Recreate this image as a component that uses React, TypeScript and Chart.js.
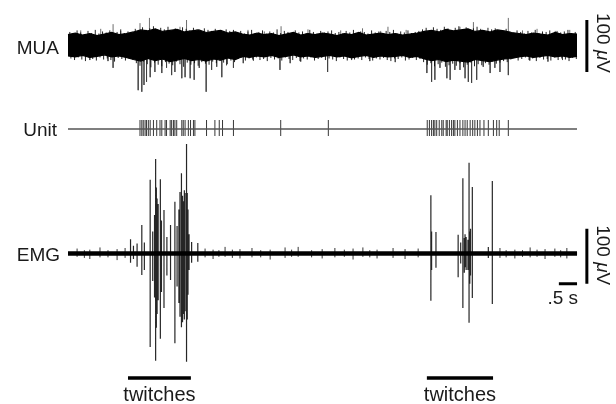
import { useEffect, useRef } from "react";
import { Chart, registerables } from "chart.js";

Chart.register(...registerables);

// ---- recording window (seconds) ----
const T_START = 0;
const T_END = 14;
const ENV_STEP = 0.2; // spacing of the MUA envelope samples
const FRINGE_STEP = 0.1; // spacing of the MUA edge excursions

// ---- MUA: envelope of the dense multi-unit band (µV, one value per ENV_STEP) ----
const MUA_UPPER = [
  22, 25, 21, 24, 20, 23, 26, 22, 24,
  27, 31, 29, 33, 28, 30, 32, 27, 29, 31, 26, 28, 30, 25, 27,
  23, 21, 25, 22, 24, 20, 23, 26, 21, 24, 22, 25, 23, 20, 24, 22, 26, 21, 23, 25, 22, 24, 21, 23, 25,
  28, 30, 27, 32, 29, 31, 33, 28, 30, 27, 31, 29, 26,
  24, 22, 25, 23, 21, 26, 22, 24, 23,
];
const MUA_LOWER = [
  -19, -21, -18, -22, -20, -17, -21, -19, -22,
  -26, -29, -24, -28, -25, -30, -27, -24, -28, -26, -29, -25, -27, -23, -26,
  -20, -22, -19, -21, -18, -22, -20, -17, -21, -19, -22, -20, -18, -21, -19, -23, -20, -18, -22, -19, -21, -20, -18, -22, -20,
  -25, -28, -26, -30, -27, -29, -31, -26, -28, -30, -27, -25, -24,
  -21, -19, -22, -20, -18, -21, -19, -22, -20,
];

// ---- MUA: small excursions along the band edges (µV, one value per FRINGE_STEP) ----
const MUA_FRINGE_UP = [
  27, 24, 30, 26, 23, 29, 25, 31, 24, 28, 26, 30, 23, 27, 32, 25, 28, 26,
  33, 29, 36, 31, 34, 38, 30, 35, 32, 37, 29, 34, 31, 36, 33, 30, 35, 32, 28, 34, 31, 29, 33, 30, 27, 32, 29, 31,
  26, 29, 24, 28, 31, 25, 27, 30, 24, 28, 26, 32, 25, 29, 27, 24, 30, 26, 28, 25, 31, 27, 24, 29, 26, 28, 30, 25, 27, 24,
  29, 26, 31, 25, 28, 27, 24, 30, 26, 28, 25, 29, 27, 31, 24, 28, 26, 30, 25, 27, 29,
  32, 35, 30, 36, 33, 31, 37, 34, 30, 35, 38, 32, 36, 31, 34, 37, 33, 30, 35, 32, 34, 31, 29, 33,
  28, 25, 30, 27, 24, 29, 26, 31, 25, 28, 27, 30, 24, 29, 26, 28, 31, 25, 27,
];
const MUA_FRINGE_DOWN = [
  -24, -27, -22, -26, -29, -23, -25, -28, -22, -26, -24, -27, -30, -23, -25, -28, -24, -26,
  -33, -38, -30, -35, -41, -32, -36, -39, -31, -34, -37, -30, -35, -40, -32, -36, -33, -38, -31, -34, -36, -30, -33, -29, -32, -35, -28, -31,
  -25, -23, -28, -24, -26, -22, -27, -25, -29, -23, -26, -24, -28, -22, -25, -27, -23, -29, -24, -26, -22, -28, -25, -23, -27, -24,
  -26, -29, -22, -25, -28, -23, -26, -24, -27, -22, -25, -28, -24, -26, -23, -27, -29, -24, -25, -22, -28, -26, -23, -27, -25,
  -31, -36, -33, -39, -35, -32, -40, -37, -34, -38, -33, -41, -36, -32, -39, -35, -37, -33, -36, -30, -34, -32, -29, -31,
  -26, -23, -28, -25, -22, -27, -24, -29, -23, -26, -25, -28, -22, -27, -24, -26, -29, -23, -25,
];

// MUA spikes poking out of the band: [time s, peak µV]
const MUA_SPIKES: [number, number][] = [
  [0.35, 30], [0.6, -27], [0.9, 33], [1.1, -29], [1.24, 42], [1.24, -42], [1.45, 29],
  [1.93, -85], [1.98, 44], [2.03, -88], [2.09, -75], [2.16, -69], [2.24, 54], [2.26, -60],
  [2.39, -50], [2.58, -52], [2.71, -42], [2.85, -56], [2.94, -50], [3.08, 37], [3.13, -62],
  [3.22, -60], [3.26, 50], [3.36, -62], [3.47, -65], [3.61, -42], [3.8, -88], [3.95, -46],
  [4.09, -40], [4.23, -60], [4.36, -37], [4.55, -42], [4.82, -33], [4.95, 31], [5.1, -28],
  [5.4, 28], [5.83, -46], [5.86, 38], [6.11, -33], [6.4, -30], [6.6, 32], [7.14, -50],
  [7.5, 30], [7.8, -27], [8.1, 34], [8.3, -29], [8.6, 29], [8.8, 37], [9.0, -31], [9.3, 31],
  [9.87, -52], [10.0, -69], [10.09, -65], [10.23, -42], [10.42, -62], [10.51, -65],
  [10.64, -46], [10.78, -46], [10.78, 37], [10.92, -62], [11.01, -69], [11.1, -71],
  [11.15, 46], [11.24, -65], [11.42, -40], [11.61, -52], [11.74, -42], [11.88, -50],
  [12.11, -56], [12.11, 54], [12.5, 30], [12.7, -28], [12.9, 33], [13.2, -30], [13.4, 29],
  [13.6, -27], [13.8, 31],
];

// ---- single-unit spike times (s) ----
const UNIT_SPIKES = [
  1.98, 2.03, 2.07, 2.12, 2.16, 2.21, 2.26, 2.35, 2.44, 2.53, 2.58, 2.67, 2.71, 2.81, 2.85,
  2.9, 2.94, 2.99, 3.13, 3.17, 3.22, 3.31, 3.37, 3.45, 3.49, 3.81, 4.04, 4.16, 4.25, 4.55,
  5.85, 7.16,
  9.88, 9.94, 10.0, 10.05, 10.09, 10.14, 10.21, 10.28, 10.32, 10.4, 10.43, 10.49, 10.55,
  10.6, 10.64, 10.71, 10.78, 10.86, 10.92, 10.98, 11.06, 11.13, 11.19, 11.26, 11.33, 11.44,
  11.56, 11.7, 11.79, 11.86, 12.11,
];

// ---- EMG deflections: [time s, up µV, down µV] ----
const EMG_NOISE: [number, number, number][] = [
  [0.25, 9, 6], [0.45, 6, 8], [0.6, 7, 10], [0.88, 11, 7], [1.1, 6, 7], [1.35, 8, 12], [1.57, 10, 8],
  [3.77, 9, 7], [3.99, 7, 10], [4.15, 6, 6], [4.32, 12, 6], [4.52, 7, 8], [4.73, 8, 9], [5.06, 10, 7],
  [5.3, 6, 7], [5.56, 7, 11], [5.97, 11, 8], [6.15, 7, 6], [6.33, 12, 6], [6.7, 6, 7], [6.99, 8, 9],
  [7.34, 10, 7], [7.6, 7, 6], [7.84, 9, 11], [8.11, 11, 6], [8.3, 6, 7], [8.5, 7, 9], [8.94, 10, 8],
  [9.27, 8, 10], [9.63, 9, 7], [11.88, 10, 8], [12.05, 6, 7], [12.29, 7, 9], [12.5, 6, 6],
  [12.71, 11, 7], [12.9, 7, 6], [13.12, 8, 10], [13.39, 9, 6], [13.55, 6, 7], [13.72, 10, 9],
];
const EMG_BURSTS: [number, number, number][] = [
  [1.72, 26, 17], [1.8, 14, 10], [1.9, 18, 24], [2.03, 52, 39], [2.1, 20, 30],
  [2.26, 134, 170], [2.33, 40, 50], [2.38, 70, 80], [2.41, 172, 195], [2.43, 120, 135],
  [2.45, 100, 110], [2.48, 90, 85], [2.54, 135, 155], [2.57, 60, 70], [2.64, 79, 99],
  [2.72, 30, 40], [2.82, 52, 48], [2.94, 94, 163], [3.0, 50, 60], [3.05, 80, 90],
  [3.08, 112, 115], [3.12, 146, 134], [3.15, 105, 125], [3.17, 95, 110], [3.2, 115, 120],
  [3.22, 110, 105], [3.26, 199, 197], [3.28, 110, 120], [3.3, 80, 75], [3.33, 35, 30],
  [3.4, 21, 17], [3.57, 19, 15],
  [9.98, 106, 86], [10.0, 40, 30], [10.12, 39, 26], [10.73, 34, 43], [10.8, 20, 18],
  [10.86, 137, 99], [10.9, 28, 35], [10.92, 35, 25], [10.95, 30, 30], [11.0, 25, 30],
  [11.03, 165, 126], [11.05, 40, 55], [11.07, 45, 40], [11.12, 121, 81], [11.56, 12, 8],
  [11.67, 132, 92],
];

// ---- twitch periods (s) ----
const TWITCHES: [number, number][] = [
  [1.65, 3.38],
  [9.87, 11.69],
];

// ---- calibration ----
const SCALE_UV = 100;
const SCALE_S = 0.5;

// ---- layout ----
const W = 616;
const H = 404;
const X0_PX = 68; // pixel of t = 0
const PX_PER_S = 36.36;
const MUA_BASE_PX = 46;
const MUA_PX_PER_UV = 0.52;
const UNIT_BASE_PX = 129;
const EMG_BASE_PX = 253.5;
const EMG_PX_PER_UV = 0.55;
const TWITCH_BAR_PX = 378;
const SCALE_BAR_T = 14.27;
const FONT = '"Liberation Sans", Arial, Helvetica, sans-serif';
const INK = "#1a1a1a";

const axisFor = (basePx: number, k: number) => ({
  type: "linear" as const,
  display: false,
  min: (basePx - H) / k,
  max: basePx / k,
});

type Pt = { x: number; y: number | null };
const segments = (rows: [number, number, number][]): Pt[] =>
  rows.flatMap(([t, lo, hi]) => [
    { x: t, y: lo },
    { x: t, y: hi },
    { x: t, y: null },
  ]);

const lineDs = (data: Pt[], yAxisID: string, color: string, width: number, extra: object = {}) => ({
  type: "line" as const,
  data,
  yAxisID,
  borderColor: color,
  borderWidth: width,
  pointRadius: 0,
  tension: 0,
  fill: false,
  spanGaps: false,
  ...extra,
});

const labelsPlugin = {
  id: "traceLabels",
  afterDraw(chart: any) {
    const { ctx } = chart;
    const x = chart.scales.x;
    const yM = chart.scales.yMua;
    const yU = chart.scales.yUnit;
    const yE = chart.scales.yEmg;
    ctx.save();
    ctx.fillStyle = INK;
    ctx.textBaseline = "alphabetic";
    ctx.font = `19px ${FONT}`;
    ctx.textAlign = "right";
    ctx.fillText("MUA", 59, yM.getPixelForValue(0) + 7.5);
    ctx.fillText("Unit", 57, yU.getPixelForValue(0) + 6.5);
    ctx.fillText("EMG", 60, yE.getPixelForValue(0) + 7);

    // twitch captions
    ctx.textAlign = "center";
    ctx.font = `20px ${FONT}`;
    TWITCHES.forEach(([a, b]) => {
      const cx = (x.getPixelForValue(a) + x.getPixelForValue(b)) / 2;
      ctx.fillText("twitches", cx, 401);
    });

    // time calibration caption
    ctx.textAlign = "right";
    ctx.font = `19px ${FONT}`;
    ctx.fillText(".5 s", x.getPixelForValue(T_END) + 1, yE.getPixelForValue(-55) + 20);

    // rotated voltage captions
    const drawUv = (cy: number) => {
      ctx.save();
      ctx.translate(602, cy);
      ctx.rotate(Math.PI / 2);
      ctx.textAlign = "left";
      ctx.textBaseline = "middle";
      const parts: [string, string][] = [
        ["100 ", `19px ${FONT}`],
        ["\u03bc", `italic 19px ${FONT}`],
        ["V", `19px ${FONT}`],
      ];
      let total = 0;
      parts.forEach(([s, f]) => {
        ctx.font = f;
        total += ctx.measureText(s).width;
      });
      let px = -total / 2;
      parts.forEach(([s, f]) => {
        ctx.font = f;
        ctx.fillText(s, px, 0);
        px += ctx.measureText(s).width;
      });
      ctx.restore();
    };
    drawUv((yM.getPixelForValue(50) + yM.getPixelForValue(-50)) / 2 - 3);
    drawUv((yE.getPixelForValue(45) + yE.getPixelForValue(-55)) / 2 - 1);
    ctx.restore();
  },
};

export default function App() {
  const ref = useRef<HTMLCanvasElement | null>(null);

  useEffect(() => {
    const canvas = ref.current;
    if (!canvas) return;

    const envTimes = MUA_UPPER.map((_, i) => T_START + i * ENV_STEP);
    const muaUpper = envTimes.map((t, i) => ({ x: t, y: MUA_UPPER[i] }));
    const muaLower = envTimes.map((t, i) => ({ x: t, y: MUA_LOWER[i] }));
    const fringe = segments([
      ...MUA_FRINGE_UP.map((v, i) => [T_START + 0.05 + i * FRINGE_STEP, 0, v] as [number, number, number]),
      ...MUA_FRINGE_DOWN.map((v, i) => [T_START + 0.08 + i * FRINGE_STEP, v, 0] as [number, number, number]),
    ]);
    const muaSpikes = segments(MUA_SPIKES.map(([t, v]) => [t, 0, v] as [number, number, number]));
    const unitBase = [
      { x: T_START, y: 0 },
      { x: T_END, y: 0 },
    ];
    const unitTicks = segments(UNIT_SPIKES.map((t) => [t, -7, 9] as [number, number, number]));
    const emgBase = [
      { x: T_START, y: 0 },
      { x: T_END, y: 0 },
    ];
    const emgNoise = segments(EMG_NOISE.map(([t, u, d]) => [t, -d, u] as [number, number, number]));
    const emgBursts = segments(EMG_BURSTS.map(([t, u, d]) => [t, -d, u] as [number, number, number]));
    const twitchY = (EMG_BASE_PX - TWITCH_BAR_PX) / EMG_PX_PER_UV;
    const twitchBars: Pt[] = TWITCHES.flatMap(([a, b]) => [
      { x: a, y: twitchY },
      { x: b, y: twitchY },
      { x: b, y: null },
    ]);
    const muaCal = segments([[SCALE_BAR_T, -SCALE_UV / 2, SCALE_UV / 2]]);
    const emgCal = segments([[SCALE_BAR_T, -55, -55 + SCALE_UV]]);
    const timeCal: Pt[] = [
      { x: T_END - SCALE_S, y: -55 },
      { x: T_END, y: -55 },
    ];

    const xMin = T_START - X0_PX / PX_PER_S;
    const chart = new Chart(canvas, {
      type: "line",
      data: {
        datasets: [
          lineDs(muaUpper, "yMua", "#000", 1.2) as any,
          lineDs(muaLower, "yMua", "#000", 1.2, { fill: "-1", backgroundColor: "#000" }) as any,
          lineDs(fringe, "yMua", "rgba(10,10,10,0.9)", 1) as any,
          lineDs(muaSpikes, "yMua", "rgba(60,60,60,0.75)", 1) as any,
          lineDs(unitBase, "yUnit", "#555", 1.5) as any,
          lineDs(unitTicks, "yUnit", "rgba(20,20,20,0.85)", 1) as any,
          lineDs(emgBase, "yEmg", "#000", 4.5) as any,
          lineDs(emgNoise, "yEmg", "rgba(20,20,20,0.85)", 1) as any,
          lineDs(emgBursts, "yEmg", "rgba(0,0,0,0.85)", 1.2) as any,
          lineDs(twitchBars, "yEmg", "#000", 3.5) as any,
          lineDs(muaCal, "yMua", "#000", 3) as any,
          lineDs(emgCal, "yEmg", "#000", 3) as any,
          lineDs(timeCal, "yEmg", "#000", 3) as any,
        ],
      },
      options: {
        animation: false,
        responsive: false,
        events: [],
        layout: { padding: 0 },
        plugins: { legend: { display: false }, tooltip: { enabled: false } },
        scales: {
          x: { type: "linear", display: false, min: xMin, max: xMin + W / PX_PER_S },
          yMua: axisFor(MUA_BASE_PX, MUA_PX_PER_UV),
          yUnit: axisFor(UNIT_BASE_PX, 1),
          yEmg: axisFor(EMG_BASE_PX, EMG_PX_PER_UV),
        },
      } as any,
      plugins: [labelsPlugin],
    });
    return () => chart.destroy();
  }, []);

  return (
    <div style={{ position: "fixed", left: 0, top: 0, width: W, height: H, background: "#fff" }}>
      <canvas ref={ref} width={W} height={H} style={{ display: "block" }} />
    </div>
  );
}
